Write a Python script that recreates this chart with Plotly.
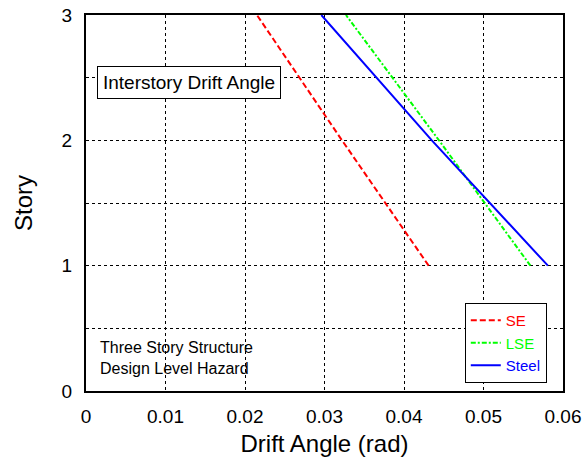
import plotly.graph_objects as go

# Peak interstory drift angle per story for three structural systems
stories = [1, 2, 3]
drift_se = [0.0431, 0.0322, 0.0215]
drift_lse = [0.0559, 0.0444, 0.0327]
drift_steel = [0.0581, 0.0435, 0.0296]

series_names = ["SE", "LSE", "Steel"]
series_colors = ["#ff0000", "#00ff00", "#0000ff"]
series_dashes = ["6px,3px", "5px,2px,2px,2px", "solid"]

x_ticks = [0, 0.01, 0.02, 0.03, 0.04, 0.05, 0.06]
x_ticklabels = ["0", "0.01", "0.02", "0.03", "0.04", "0.05", "0.06"]
y_ticks = [0, 0.5, 1, 1.5, 2, 2.5, 3]
y_ticklabels = ["0", "", "1", "", "2", "", "3"]

FONT = "Liberation Sans, Arial, sans-serif"

fig = go.Figure()
for name, vals, color, dash in zip(series_names, [drift_se, drift_lse, drift_steel],
                                   series_colors, series_dashes):
    fig.add_trace(go.Scatter(
        x=vals, y=stories, mode="lines",
        name=f"<span style='color:{color}'>{name}</span>",
        line=dict(color=color, width=2, dash=dash),
    ))

axis_common = dict(
    showline=True, linecolor="#000000", linewidth=2, mirror=True,
    showgrid=True, gridcolor="#000000", gridwidth=1, griddash="3px,3px",
    zeroline=False, ticks="", automargin=False,
    tickfont=dict(family=FONT, size=19, color="#000"),
)

fig.update_xaxes(range=[0, 0.06], tickvals=x_ticks, ticktext=x_ticklabels,
                 title=dict(text="Drift Angle (rad)", font=dict(family=FONT, size=24, color="#000"),
                            standoff=9),
                 ticklabelstandoff=7, **axis_common)
fig.update_yaxes(range=[0, 3], tickvals=y_ticks, ticktext=y_ticklabels,
                 title=dict(text="Story", font=dict(family=FONT, size=24, color="#000"),
                            standoff=22),
                 ticklabelstandoff=8, **axis_common)

fig.add_annotation(
    x=0.0014, y=2.46, xref="x", yref="y", xanchor="left", yanchor="middle",
    text="Interstory Drift Angle", showarrow=False,
    font=dict(family=FONT, size=19, color="#000"),
    bgcolor="#ffffff", bordercolor="#000000", borderwidth=1, borderpad=5,
)
fig.add_annotation(
    x=0.0015, y=0.26, xref="x", yref="y", xanchor="left", yanchor="middle",
    text="Three Story Structure<br>Design Level Hazard", showarrow=False, align="left",
    font=dict(family=FONT, size=16, color="#000"),
)

fig.update_layout(
    width=586, height=470,
    margin=dict(l=86, r=23, t=15, b=79),
    paper_bgcolor="#ffffff", plot_bgcolor="#ffffff",
    font=dict(family=FONT, color="#000"),
    showlegend=True,
    legend=dict(
        x=0.966, y=0.021, xanchor="right", yanchor="bottom",
        bgcolor="#ffffff", bordercolor="#000000", borderwidth=1,
        font=dict(family=FONT, size=15), tracegroupgap=0, itemwidth=30,
    ),
)

fig.write_html("out.html")
